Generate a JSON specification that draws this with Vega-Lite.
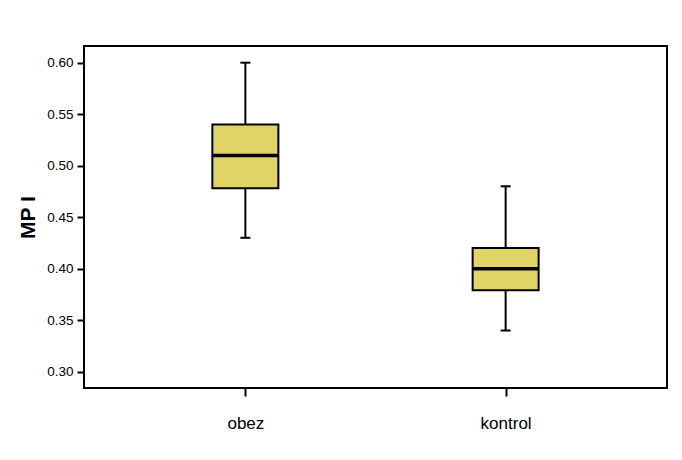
{
  "$schema": "https://vega.github.io/schema/vega-lite/v6.json",
  "width": 583,
  "height": 342,
  "autosize": {"type": "none"},
  "padding": {"left": 84, "top": 46, "right": 15, "bottom": 72},
  "background": "white",
  "config": {
    "view": {"stroke": "black", "strokeWidth": 2},
    "font": "Liberation Sans"
  },
  "data": {
    "values": [
      {"group": "obez", "lower": 0.43, "q1": 0.478, "median": 0.51, "q3": 0.54, "upper": 0.60},
      {"group": "kontrol", "lower": 0.34, "q1": 0.379, "median": 0.40, "q3": 0.42, "upper": 0.48}
    ]
  },
  "encoding": {
    "x": {
      "field": "group",
      "type": "nominal",
      "sort": ["obez", "kontrol"],
      "scale": {"type": "point", "padding": 0.62},
      "axis": {
        "title": null,
        "labelAngle": 0,
        "labelFontSize": 17,
        "labelColor": "black",
        "labelPadding": 19,
        "tickSize": 8,
        "tickColor": "black",
        "tickWidth": 2,
        "domain": false,
        "grid": false
      }
    }
  },
  "layer": [
    {
      "mark": {"type": "rule", "color": "black", "strokeWidth": 2},
      "encoding": {
        "y": {
          "field": "lower",
          "type": "quantitative",
          "scale": {"domain": [0.2842, 0.6162], "nice": false, "zero": false},
          "axis": {
            "values": [0.30, 0.35, 0.40, 0.45, 0.50, 0.55, 0.60],
            "format": ".2f",
            "labelFontSize": 13.5,
            "labelColor": "black",
            "labelPadding": 4,
            "tickSize": 7,
            "tickColor": "black",
            "tickWidth": 2,
            "domain": false,
            "grid": false,
            "title": "MP I",
            "titleFontSize": 21,
            "titleFontWeight": "bold",
            "titleColor": "black",
            "titlePadding": 8
          }
        },
        "y2": {"field": "upper"}
      }
    },
    {
      "mark": {"type": "bar", "width": 66, "fill": "#E1D466", "stroke": "black", "strokeWidth": 2},
      "encoding": {
        "y": {"field": "q1", "type": "quantitative"},
        "y2": {"field": "q3"}
      }
    },
    {
      "mark": {"type": "tick", "size": 66, "thickness": 3.5, "color": "black", "opacity": 1},
      "encoding": {"y": {"field": "median", "type": "quantitative"}}
    },
    {
      "mark": {"type": "tick", "size": 10, "thickness": 2, "color": "black", "opacity": 1},
      "encoding": {"y": {"field": "upper", "type": "quantitative"}}
    },
    {
      "mark": {"type": "tick", "size": 10, "thickness": 2, "color": "black", "opacity": 1},
      "encoding": {"y": {"field": "lower", "type": "quantitative"}}
    }
  ]
}
